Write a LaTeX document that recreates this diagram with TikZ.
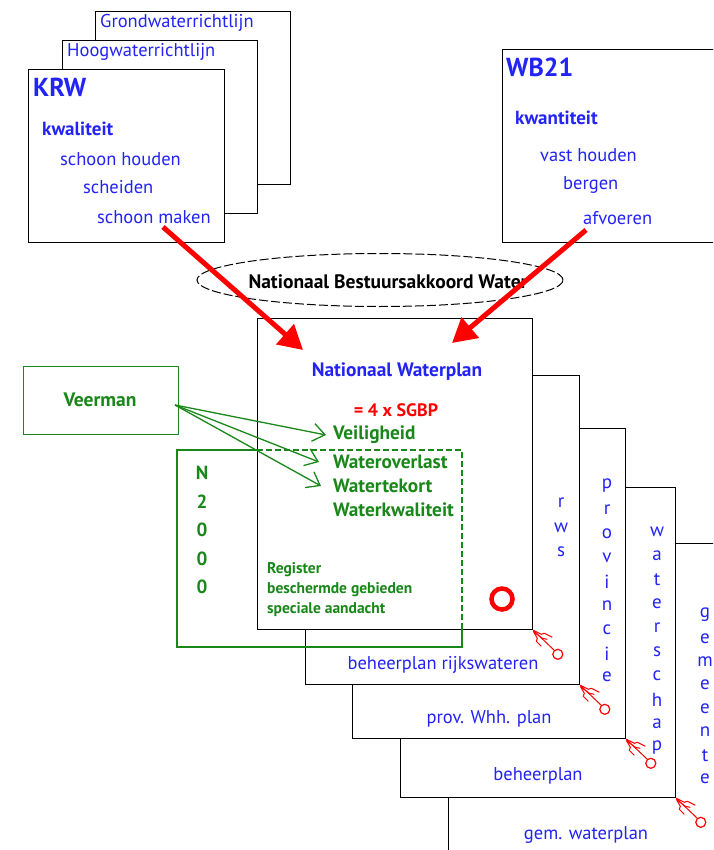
\documentclass[tikz,border=0pt]{standalone}
\usepackage{fontspec}
\setmainfont{PT Sans}
\usetikzlibrary{arrows.meta,shapes.geometric}
\definecolor{tblue}{RGB}{35,35,245}
\definecolor{tgreen}{RGB}{25,135,25}
\definecolor{tred}{RGB}{255,0,0}
\begin{document}
\begin{tikzpicture}[x=1pt,y=-1pt,
  box/.style={draw=black, line width=1.3pt, fill=white, inner sep=0pt, anchor=north west},
  gbox/.style={draw=tgreen, line width=1.2pt, fill=white, inner sep=0pt, anchor=north west},
  btxt/.style={text=tblue, inner sep=0pt, anchor=west, font=\fontsize{18.5}{20}\selectfont},
  bbtxt/.style={text=tblue, inner sep=0pt, anchor=west, font=\bfseries\fontsize{19}{20}\selectfont},
  titletxt/.style={text=tblue, inner sep=0pt, anchor=west, font=\bfseries\fontsize{26}{28}\selectfont},
  gtxt/.style={text=tgreen, inner sep=0pt, anchor=west, font=\bfseries\fontsize{19.3}{20}\selectfont},
  gstxt/.style={text=tgreen, inner sep=0pt, anchor=west, font=\bfseries\fontsize{15.5}{17}\selectfont},
  vtxt/.style={text=tblue, inner sep=0pt, font=\fontsize{19}{20}\selectfont},
  ctxt/.style={text=tblue, inner sep=0pt, font=\fontsize{18.5}{20}\selectfont},
  redarrow/.style={draw=tred, line width=5pt, -{Triangle[length=24pt,width=26pt]}},
  greenarrow/.style={draw=tgreen, line width=1.3pt, -{Straight Barb[length=12pt,width=18pt]}},
  pinmark/.pic={
    \draw[tred, line width=1pt] (0,0) -- (21,20);
    \draw[tred, line width=1.2pt] (24.5,24) circle (5);
    \draw[tred, line width=1pt] (0,0) -- (8,4) -- (11,3) -- (19,7);
    \draw[tred, line width=1pt] (1,2) -- (9,8) -- (14,9);
    \draw[tred, line width=1pt] (0,1) -- (4,8) -- (3,11) -- (8,16);
  }]
\clip (0,0) rectangle (713,850);
\fill[white] (0,0) rectangle (713,850);

% back stack of documents (top left)
\node[box, minimum width=195, minimum height=173] (grond) at (95,11) {};
\node[box, minimum width=195, minimum height=173] (hoog) at (62,40) {};
\node[box, minimum width=196, minimum height=173] (krw) at (28,69) {};
\node[btxt] (tgrond) at (100,23) {Grondwaterrichtlijn};
\node[btxt] (thoog) at (67,52) {Hoogwaterrichtlijn};
\node[titletxt] (tkrw) at (33,87) {KRW};
\node[bbtxt] (tkwal) at (42,129) {kwaliteit};
\node[btxt] (tsh) at (60,159) {schoon houden};
\node[btxt] (tsch) at (83,187) {scheiden};
\node[btxt] (tsm) at (97,217) {schoon maken};

% WB21
\node[box, minimum width=230, minimum height=193] (wb) at (502,49) {};
\node[titletxt] (twb) at (506,67) {WB21};
\node[bbtxt] (tkwan) at (515,118) {kwantiteit};
\node[btxt] (tvh) at (540,155) {vast houden};
\node[btxt] (tberg) at (563,185) {bergen};
\node[btxt] (tafv) at (583,218) {afvoeren};

% ellipse
\node[draw=black, dash pattern=on 9pt off 3pt, line width=1pt, ellipse, fill=white, minimum width=366, minimum height=53, inner sep=0pt] (nbw) at (380,280) {};
\node[text=black, inner sep=0pt, font=\bfseries\fontsize{19.5}{20}\selectfont] (tnbw) at (388,282) {Nationaal Bestuursakkoord Water};

% stacked plans
\node[box, minimum width=280, minimum height=320] (gem) at (448,543) {};
\node[box, minimum width=275, minimum height=310] (ws) at (400,487) {};
\node[box, minimum width=273, minimum height=310] (prov) at (352,428) {};
\node[box, minimum width=274, minimum height=309] (rws) at (305,375) {};
\node[box, minimum width=275, minimum height=311] (nwp) at (257,318) {};

\node[ctxt] (tbrw) at (443,665) {beheerplan rijkswateren};
\node[ctxt] (tpw) at (489,719) {prov. Whh. plan};
\node[ctxt] (tbp) at (538,776) {beheerplan};
\node[ctxt] (tgw) at (586,835) {gem. waterplan};

\foreach \l [count=\i from 0] in {r,w,s}
  \node[vtxt] (rws\i) at (561,503+24.5*\i) {\l};
\foreach \l [count=\i from 0] in {p,r,o,v,i,n,c,i,e}
  \node[vtxt] (prov\i) at (607,486+23.9*\i) {\l};
\foreach \l [count=\i from 0] in {w,a,t,e,r,s,c,h,a,p}
  \node[vtxt] (ws\i) at (657,532+24*\i) {\l};
\foreach \l [count=\i from 0] in {g,e,m,e,e,n,t,e}
  \node[vtxt] (gem\i) at (705,615+23.4*\i) {\l};

% N2000 box: solid outside the plan, dashed inside
\coordinate (n2nw) at (177,450);
\coordinate (n2se) at (462,647);
\draw[tgreen, line width=1.2pt] (257,450) -- (n2nw) |- (n2se) -- (462,629);
\draw[tgreen, line width=1.2pt, dash pattern=on 6pt off 3pt] (257,450) -- (462,450) -- (462,629);
\foreach \l [count=\i from 0] in {N,2,0,0,0}
  \node[text=tgreen, inner sep=0pt, font=\bfseries\fontsize{19}{20}\selectfont] (n2\i) at (202,473+28.5*\i) {\l};
\node[gstxt] (treg) at (267,570) {Register};
\node[gstxt] (tbes) at (267,590) {beschermde gebieden};
\node[gstxt] (tspe) at (267,610) {speciale aandacht};

% plan texts
\node[text=tblue, inner sep=0pt, font=\bfseries\fontsize{19.4}{20}\selectfont] (tnwp) at (397,372) {Nationaal Waterplan};
\node[text=tred, inner sep=0pt, font=\bfseries\fontsize{18}{20}\selectfont] (tsgbp) at (396,410) {= 4 x SGBP};
\node[gtxt] (tveil) at (333,435) {Veiligheid};
\node[gtxt] (tover) at (333,462) {Wateroverlast};
\node[gtxt] (ttek) at (333,486) {Watertekort};
\node[gtxt] (tkw) at (333,510) {Waterkwaliteit};
\draw[tred, line width=4.5pt] (502,599) circle (10.5);

% Veerman
\node[gbox, minimum width=155, minimum height=68] (veer) at (23,366) {};
\node[text=tgreen, inner sep=0pt, font=\bfseries\fontsize{19.5}{20}\selectfont] (tveer) at (100,400) {Veerman};
\coordinate (vs) at (175,405);
\draw[greenarrow] (vs) -- ([xshift=-7pt]tveil.west);
\draw[greenarrow] (vs) -- ([xshift=-14pt]tover.west);
\draw[greenarrow] (vs) -- ([xshift=-12pt]ttek.west);

% red arrows
\coordinate (ra1) at (163,227);
\coordinate (rb1) at (303,350);
\coordinate (ra2) at (586,230);
\coordinate (rb2) at (452,343);
\draw[redarrow] (ra1) -- (rb1);
\draw[redarrow] (ra2) -- (rb2);

% red pin marks at plan corners
\pic at (nwp.south east) {pinmark};
\pic at (rws.south east) {pinmark};
\pic at (prov.south east) {pinmark};
\pic at (ws.south east) {pinmark};
\end{tikzpicture}
\end{document}
